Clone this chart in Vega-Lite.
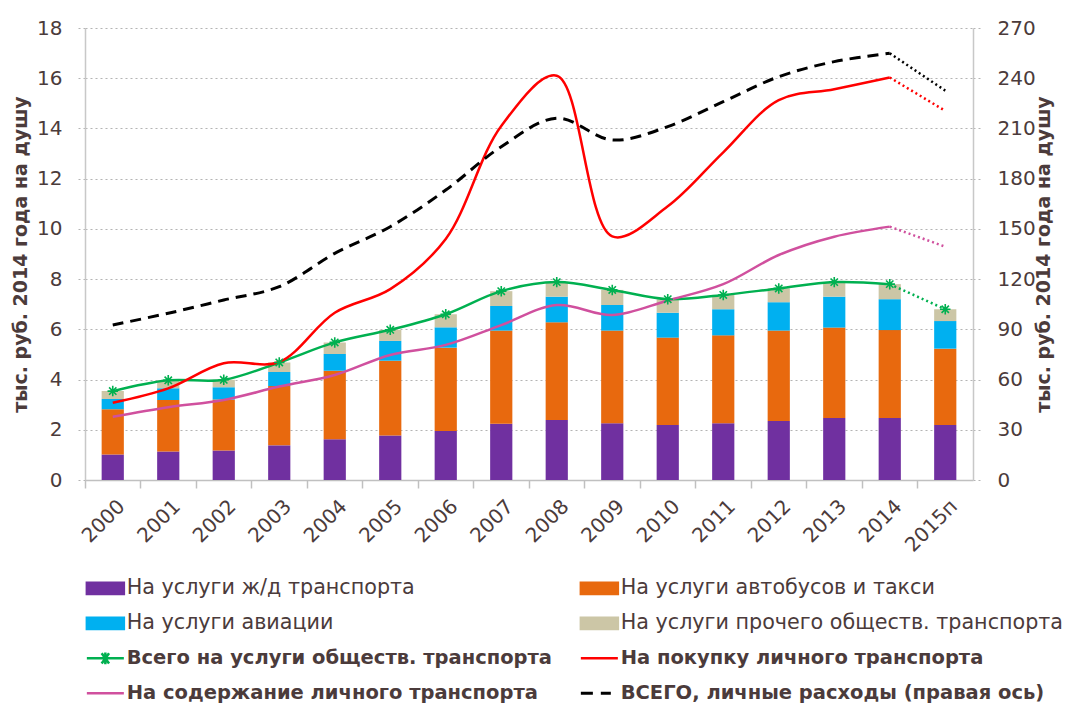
{
  "$schema": "https://vega.github.io/schema/vega-lite/v6.json",
  "width": 888,
  "height": 452,
  "autosize": {"type": "none"},
  "padding": {"left": 85, "top": 28, "right": 95, "bottom": 227},
  "background": "white",
  "config": {
    "view": {"stroke": null},
    "font": "DejaVu Sans",
    "axis": {"labelFont": "DejaVu Sans", "titleFont": "DejaVu Sans", "labelColor": "#4B3B3B", "titleColor": "#4B3B3B"}
  },
  "datasets": {
    "bars": [
      {"year": "2000", "series": "На услуги ж/д транспорта", "value": 1.02},
      {"year": "2000", "series": "На услуги автобусов и такси", "value": 1.80},
      {"year": "2000", "series": "На услуги авиации", "value": 0.41},
      {"year": "2000", "series": "На услуги прочего обществ. транспорта", "value": 0.31},
      {"year": "2001", "series": "На услуги ж/д транспорта", "value": 1.13},
      {"year": "2001", "series": "На услуги автобусов и такси", "value": 2.06},
      {"year": "2001", "series": "На услуги авиации", "value": 0.46},
      {"year": "2001", "series": "На услуги прочего обществ. транспорта", "value": 0.32},
      {"year": "2002", "series": "На услуги ж/д транспорта", "value": 1.17},
      {"year": "2002", "series": "На услуги автобусов и такси", "value": 2.04},
      {"year": "2002", "series": "На услуги авиации", "value": 0.48},
      {"year": "2002", "series": "На услуги прочего обществ. транспорта", "value": 0.30},
      {"year": "2003", "series": "На услуги ж/д транспорта", "value": 1.38},
      {"year": "2003", "series": "На услуги автобусов и такси", "value": 2.36},
      {"year": "2003", "series": "На услуги авиации", "value": 0.56},
      {"year": "2003", "series": "На услуги прочего обществ. транспорта", "value": 0.38},
      {"year": "2004", "series": "На услуги ж/д транспорта", "value": 1.62},
      {"year": "2004", "series": "На услуги автобусов и такси", "value": 2.73},
      {"year": "2004", "series": "На услуги авиации", "value": 0.67},
      {"year": "2004", "series": "На услуги прочего обществ. транспорта", "value": 0.46},
      {"year": "2005", "series": "На услуги ж/д транспорта", "value": 1.77},
      {"year": "2005", "series": "На услуги автобусов и такси", "value": 2.98},
      {"year": "2005", "series": "На услуги авиации", "value": 0.79},
      {"year": "2005", "series": "На услуги прочего обществ. транспорта", "value": 0.44},
      {"year": "2006", "series": "На услуги ж/д транспорта", "value": 1.95},
      {"year": "2006", "series": "На услуги автобусов и такси", "value": 3.32},
      {"year": "2006", "series": "На услуги авиации", "value": 0.81},
      {"year": "2006", "series": "На услуги прочего обществ. транспорта", "value": 0.52},
      {"year": "2007", "series": "На услуги ж/д транспорта", "value": 2.24},
      {"year": "2007", "series": "На услуги автобусов и такси", "value": 3.71},
      {"year": "2007", "series": "На услуги авиации", "value": 0.98},
      {"year": "2007", "series": "На услуги прочего обществ. транспорта", "value": 0.59},
      {"year": "2008", "series": "На услуги ж/д транспорта", "value": 2.39},
      {"year": "2008", "series": "На услуги автобусов и такси", "value": 3.89},
      {"year": "2008", "series": "На услуги авиации", "value": 1.02},
      {"year": "2008", "series": "На услуги прочего обществ. транспорта", "value": 0.58},
      {"year": "2009", "series": "На услуги ж/д транспорта", "value": 2.26},
      {"year": "2009", "series": "На услуги автобусов и такси", "value": 3.69},
      {"year": "2009", "series": "На услуги авиации", "value": 1.02},
      {"year": "2009", "series": "На услуги прочего обществ. транспорта", "value": 0.60},
      {"year": "2010", "series": "На услуги ж/д транспорта", "value": 2.19},
      {"year": "2010", "series": "На услуги автобусов и такси", "value": 3.48},
      {"year": "2010", "series": "На услуги авиации", "value": 0.99},
      {"year": "2010", "series": "На услуги прочего обществ. транспорта", "value": 0.54},
      {"year": "2011", "series": "На услуги ж/д транспорта", "value": 2.26},
      {"year": "2011", "series": "На услуги автобусов и такси", "value": 3.50},
      {"year": "2011", "series": "На услуги авиации", "value": 1.04},
      {"year": "2011", "series": "На услуги прочего обществ. транспорта", "value": 0.57},
      {"year": "2012", "series": "На услуги ж/д транспорта", "value": 2.35},
      {"year": "2012", "series": "На услуги автобусов и такси", "value": 3.60},
      {"year": "2012", "series": "На услуги авиации", "value": 1.13},
      {"year": "2012", "series": "На услуги прочего обществ. транспорта", "value": 0.55},
      {"year": "2013", "series": "На услуги ж/д транспорта", "value": 2.47},
      {"year": "2013", "series": "На услуги автобусов и такси", "value": 3.60},
      {"year": "2013", "series": "На услуги авиации", "value": 1.23},
      {"year": "2013", "series": "На услуги прочего обществ. транспорта", "value": 0.58},
      {"year": "2014", "series": "На услуги ж/д транспорта", "value": 2.47},
      {"year": "2014", "series": "На услуги автобусов и такси", "value": 3.50},
      {"year": "2014", "series": "На услуги авиации", "value": 1.23},
      {"year": "2014", "series": "На услуги прочего обществ. транспорта", "value": 0.60},
      {"year": "2015п", "series": "На услуги ж/д транспорта", "value": 2.19},
      {"year": "2015п", "series": "На услуги автобусов и такси", "value": 3.04},
      {"year": "2015п", "series": "На услуги авиации", "value": 1.10},
      {"year": "2015п", "series": "На услуги прочего обществ. транспорта", "value": 0.47}
    ],
    "lines": [
      {"year": "2000", "series": "Всего на услуги обществ. транспорта", "value": 3.54, "kind": "факт"},
      {"year": "2001", "series": "Всего на услуги обществ. транспорта", "value": 3.97, "kind": "факт"},
      {"year": "2002", "series": "Всего на услуги обществ. транспорта", "value": 3.99, "kind": "факт"},
      {"year": "2003", "series": "Всего на услуги обществ. транспорта", "value": 4.68, "kind": "факт"},
      {"year": "2004", "series": "Всего на услуги обществ. транспорта", "value": 5.48, "kind": "факт"},
      {"year": "2005", "series": "Всего на услуги обществ. транспорта", "value": 5.98, "kind": "факт"},
      {"year": "2006", "series": "Всего на услуги обществ. транспорта", "value": 6.60, "kind": "факт"},
      {"year": "2007", "series": "Всего на услуги обществ. транспорта", "value": 7.52, "kind": "факт"},
      {"year": "2008", "series": "Всего на услуги обществ. транспорта", "value": 7.88, "kind": "факт"},
      {"year": "2009", "series": "Всего на услуги обществ. транспорта", "value": 7.57, "kind": "факт"},
      {"year": "2010", "series": "Всего на услуги обществ. транспорта", "value": 7.20, "kind": "факт"},
      {"year": "2011", "series": "Всего на услуги обществ. транспорта", "value": 7.37, "kind": "факт"},
      {"year": "2012", "series": "Всего на услуги обществ. транспорта", "value": 7.63, "kind": "факт"},
      {"year": "2013", "series": "Всего на услуги обществ. транспорта", "value": 7.88, "kind": "факт"},
      {"year": "2014", "series": "Всего на услуги обществ. транспорта", "value": 7.80, "kind": "факт"},
      {"year": "2014", "series": "Всего на услуги обществ. транспорта", "value": 7.80, "kind": "прогноз"},
      {"year": "2015п", "series": "Всего на услуги обществ. транспорта", "value": 6.80, "kind": "прогноз"},
      {"year": "2000", "series": "На покупку личного транспорта", "value": 3.08, "kind": "факт"},
      {"year": "2001", "series": "На покупку личного транспорта", "value": 3.65, "kind": "факт"},
      {"year": "2002", "series": "На покупку личного транспорта", "value": 4.65, "kind": "факт"},
      {"year": "2003", "series": "На покупку личного транспорта", "value": 4.70, "kind": "факт"},
      {"year": "2004", "series": "На покупку личного транспорта", "value": 6.66, "kind": "факт"},
      {"year": "2005", "series": "На покупку личного транспорта", "value": 7.60, "kind": "факт"},
      {"year": "2006", "series": "На покупку личного транспорта", "value": 9.60, "kind": "факт"},
      {"year": "2007", "series": "На покупку личного транспорта", "value": 14.1, "kind": "факт"},
      {"year": "2008", "series": "На покупку личного транспорта", "value": 16.1, "kind": "факт"},
      {"year": "2009", "series": "На покупку личного транспорта", "value": 9.7, "kind": "факт"},
      {"year": "2010", "series": "На покупку личного транспорта", "value": 10.9, "kind": "факт"},
      {"year": "2011", "series": "На покупку личного транспорта", "value": 13.05, "kind": "факт"},
      {"year": "2012", "series": "На покупку личного транспорта", "value": 15.13, "kind": "факт"},
      {"year": "2013", "series": "На покупку личного транспорта", "value": 15.56, "kind": "факт"},
      {"year": "2014", "series": "На покупку личного транспорта", "value": 16.03, "kind": "факт"},
      {"year": "2014", "series": "На покупку личного транспорта", "value": 16.03, "kind": "прогноз"},
      {"year": "2015п", "series": "На покупку личного транспорта", "value": 14.7, "kind": "прогноз"},
      {"year": "2000", "series": "На содержание личного транспорта", "value": 2.52, "kind": "факт"},
      {"year": "2001", "series": "На содержание личного транспорта", "value": 2.90, "kind": "факт"},
      {"year": "2002", "series": "На содержание личного транспорта", "value": 3.19, "kind": "факт"},
      {"year": "2003", "series": "На содержание личного транспорта", "value": 3.72, "kind": "факт"},
      {"year": "2004", "series": "На содержание личного транспорта", "value": 4.18, "kind": "факт"},
      {"year": "2005", "series": "На содержание личного транспорта", "value": 4.98, "kind": "факт"},
      {"year": "2006", "series": "На содержание личного транспорта", "value": 5.38, "kind": "факт"},
      {"year": "2007", "series": "На содержание личного транспорта", "value": 6.17, "kind": "факт"},
      {"year": "2008", "series": "На содержание личного транспорта", "value": 6.97, "kind": "факт"},
      {"year": "2009", "series": "На содержание личного транспорта", "value": 6.57, "kind": "факт"},
      {"year": "2010", "series": "На содержание личного транспорта", "value": 7.15, "kind": "факт"},
      {"year": "2011", "series": "На содержание личного транспорта", "value": 7.80, "kind": "факт"},
      {"year": "2012", "series": "На содержание личного транспорта", "value": 8.96, "kind": "факт"},
      {"year": "2013", "series": "На содержание личного транспорта", "value": 9.69, "kind": "факт"},
      {"year": "2014", "series": "На содержание личного транспорта", "value": 10.09, "kind": "факт"},
      {"year": "2014", "series": "На содержание личного транспорта", "value": 10.09, "kind": "прогноз"},
      {"year": "2015п", "series": "На содержание личного транспорта", "value": 9.29, "kind": "прогноз"}
    ],
    "total": [
      {"year": "2000", "series": "ВСЕГО, личные расходы (правая ось)", "value": 92.6, "kind": "факт"},
      {"year": "2001", "series": "ВСЕГО, личные расходы (правая ось)", "value": 99.6, "kind": "факт"},
      {"year": "2002", "series": "ВСЕГО, личные расходы (правая ось)", "value": 107.5, "kind": "факт"},
      {"year": "2003", "series": "ВСЕГО, личные расходы (правая ось)", "value": 115.5, "kind": "факт"},
      {"year": "2004", "series": "ВСЕГО, личные расходы (правая ось)", "value": 135.4, "kind": "факт"},
      {"year": "2005", "series": "ВСЕГО, личные расходы (правая ось)", "value": 151.3, "kind": "факт"},
      {"year": "2006", "series": "ВСЕГО, личные расходы (правая ось)", "value": 173.2, "kind": "факт"},
      {"year": "2007", "series": "ВСЕГО, личные расходы (правая ось)", "value": 199.1, "kind": "факт"},
      {"year": "2008", "series": "ВСЕГО, личные расходы (правая ось)", "value": 216.1, "kind": "факт"},
      {"year": "2009", "series": "ВСЕГО, личные расходы (правая ось)", "value": 203.1, "kind": "факт"},
      {"year": "2010", "series": "ВСЕГО, личные расходы (правая ось)", "value": 211.1, "kind": "факт"},
      {"year": "2011", "series": "ВСЕГО, личные расходы (правая ось)", "value": 226.0, "kind": "факт"},
      {"year": "2012", "series": "ВСЕГО, личные расходы (правая ось)", "value": 240.9, "kind": "факт"},
      {"year": "2013", "series": "ВСЕГО, личные расходы (правая ось)", "value": 249.9, "kind": "факт"},
      {"year": "2014", "series": "ВСЕГО, личные расходы (правая ось)", "value": 254.9, "kind": "факт"},
      {"year": "2014", "series": "ВСЕГО, личные расходы (правая ось)", "value": 254.9, "kind": "прогноз"},
      {"year": "2015п", "series": "ВСЕГО, личные расходы (правая ось)", "value": 232.6, "kind": "прогноз"}
    ]
  },
  "layer": [
    {
      "layer": [
        {
          "data": {"name": "bars"},
          "transform": [
            {"calculate": "indexof(['На услуги ж/д транспорта','На услуги автобусов и такси','На услуги авиации','На услуги прочего обществ. транспорта'], datum.series)", "as": "ord"}
          ],
          "mark": {"type": "bar", "width": {"band": 0.4}},
          "encoding": {
            "x": {
              "field": "year", "type": "ordinal",
              "scale": {"domain": ["2000","2001","2002","2003","2004","2005","2006","2007","2008","2009","2010","2011","2012","2013","2014","2015п"], "paddingInner": 0, "paddingOuter": 0},
              "axis": {"title": null, "labelAngle": -45, "bandPosition": 0, "labelOffset": 2, "ticks": true, "tickSize": 8, "tickColor": "#c0c0c0", "tickWidth": 1.5, "domainColor": "#c0c0c0", "domainWidth": 1.5, "labelFontSize": 20, "labelPadding": 8, "grid": false}
            },
            "y": {
              "field": "value", "type": "quantitative", "stack": "zero",
              "scale": {"domain": [0, 18], "nice": false},
              "axis": {"title": "тыс. руб. 2014 года на душу", "values": [0,2,4,6,8,10,12,14,16,18], "grid": true, "gridDash": [2,3], "gridColor": "#b4b4b4", "gridWidth": 1.2, "tickSize": 8, "tickDash": [2,3], "tickColor": "#b4b4b4", "domainColor": "#c8c8c8", "domainWidth": 1.5, "labelFontSize": 20, "labelPadding": 15, "titleFontSize": 19, "titleFontWeight": "bold", "titlePadding": 6}
            },
            "color": {
              "field": "series", "type": "nominal",
              "scale": {
                "domain": ["На услуги ж/д транспорта","На услуги автобусов и такси","На услуги авиации","На услуги прочего обществ. транспорта","Всего на услуги обществ. транспорта","На покупку личного транспорта","На содержание личного транспорта","ВСЕГО, личные расходы (правая ось)"],
                "range": ["#7030A0","#E8690E","#00B0F0","#CCC6A6","#00B050","#FF0000","#D0509E","#000000"]
              },
              "legend": {
                "title": null, "orient": "none", "direction": "horizontal", "legendX": 10, "legendY": 550, "columns": 2, "columnPadding": 22, "rowPadding": 13,
                "symbolSize": 1369, "labelOffset": 11, "labelLimit": 600, "padding": 0,
                "labelFont": "DejaVu Sans", "labelFontSize": 21, "labelColor": "#4B3B3B",
                "encode": {
                  "symbols": {"update": {
                    "shape": {"signal": "indexof(domain('color'), datum.value) < 4 ? 'M-1,-0.3H1V0.3H-1Z' : indexof(domain('color'), datum.value) == 4 ? 'M-1,0H1M-0.2,-0.28L0.2,0.28M-0.2,0.28L0.2,-0.28M0,-0.32V0.32' : indexof(domain('color'), datum.value) == 7 ? 'M-1,0H-0.35M0.08,0H0.62' : 'M-1,0H1'"},
                    "fill": {"signal": "indexof(domain('color'), datum.value) < 4 ? scale('color', datum.value) : 'transparent'"},
                    "stroke": {"signal": "indexof(domain('color'), datum.value) < 4 ? 'transparent' : scale('color', datum.value)"},
                    "strokeWidth": {"signal": "indexof(domain('color'), datum.value) == 7 ? 3 : 2.5"},
                    "opacity": {"value": 1}
                  }},
                  "labels": {"update": {
                    "fontWeight": {"signal": "indexof(domain('color'), datum.value) >= 4 ? 'bold' : 'normal'"},
                    "fontSize": {"signal": "indexof(domain('color'), datum.value) >= 4 ? 19.5 : 20.7"}
                  }}
                }
              }
            },
            "order": {"field": "ord", "type": "quantitative"}
          }
        },
        {
          "data": {"name": "lines"},
          "transform": [{"filter": "datum.kind == 'факт'"}],
          "mark": {"type": "line", "interpolate": "catmull-rom", "strokeWidth": 2.5},
          "encoding": {
            "x": {"field": "year", "type": "ordinal"},
            "y": {"field": "value", "type": "quantitative"},
            "color": {"field": "series", "type": "nominal"}
          }
        },
        {
          "data": {"name": "lines"},
          "transform": [{"filter": "datum.kind == 'прогноз'"}],
          "mark": {"type": "line", "strokeWidth": 2.5, "strokeDash": [2, 3]},
          "encoding": {
            "x": {"field": "year", "type": "ordinal"},
            "y": {"field": "value", "type": "quantitative"},
            "color": {"field": "series", "type": "nominal"}
          }
        },
        {
          "data": {"name": "lines"},
          "transform": [{"filter": "datum.series == 'Всего на услуги обществ. транспорта' && !(datum.kind == 'прогноз' && datum.year == '2014')"}],
          "mark": {"type": "point", "shape": "M-1,0H1M0,-1V1M-0.7,-0.7L0.7,0.7M-0.7,0.7L0.7,-0.7", "size": 110, "filled": false, "strokeWidth": 1.6, "opacity": 1},
          "encoding": {
            "x": {"field": "year", "type": "ordinal"},
            "y": {"field": "value", "type": "quantitative"},
            "color": {"field": "series", "type": "nominal"}
          }
        }
      ]
    },
    {
      "data": {"name": "total"},
      "layer": [
        {
          "transform": [{"filter": "datum.kind == 'факт'"}],
          "mark": {"type": "line", "interpolate": "catmull-rom", "strokeWidth": 3, "strokeDash": [11, 7]},
          "encoding": {
            "x": {"field": "year", "type": "ordinal"},
            "y": {
              "field": "value", "type": "quantitative",
              "scale": {"domain": [0, 270], "nice": false},
              "axis": {"orient": "right", "title": "тыс. руб. 2014 года на душу", "titleAngle": 270, "values": [0,30,60,90,120,150,180,210,240,270], "grid": false, "tickSize": 8, "tickColor": "#b4b4b4", "tickDash": [2,3], "domainColor": "#c8c8c8", "domainWidth": 1.5, "labelFontSize": 20, "labelPadding": 16, "titleFontSize": 19, "titleFontWeight": "bold", "titlePadding": 18}
            },
            "color": {"field": "series", "type": "nominal"}
          }
        },
        {
          "transform": [{"filter": "datum.kind == 'прогноз'"}],
          "mark": {"type": "line", "strokeWidth": 2.5, "strokeDash": [2, 3]},
          "encoding": {
            "x": {"field": "year", "type": "ordinal"},
            "y": {"field": "value", "type": "quantitative"},
            "color": {"field": "series", "type": "nominal"}
          }
        }
      ]
    }
  ],
  "resolve": {"scale": {"y": "independent"}}
}
